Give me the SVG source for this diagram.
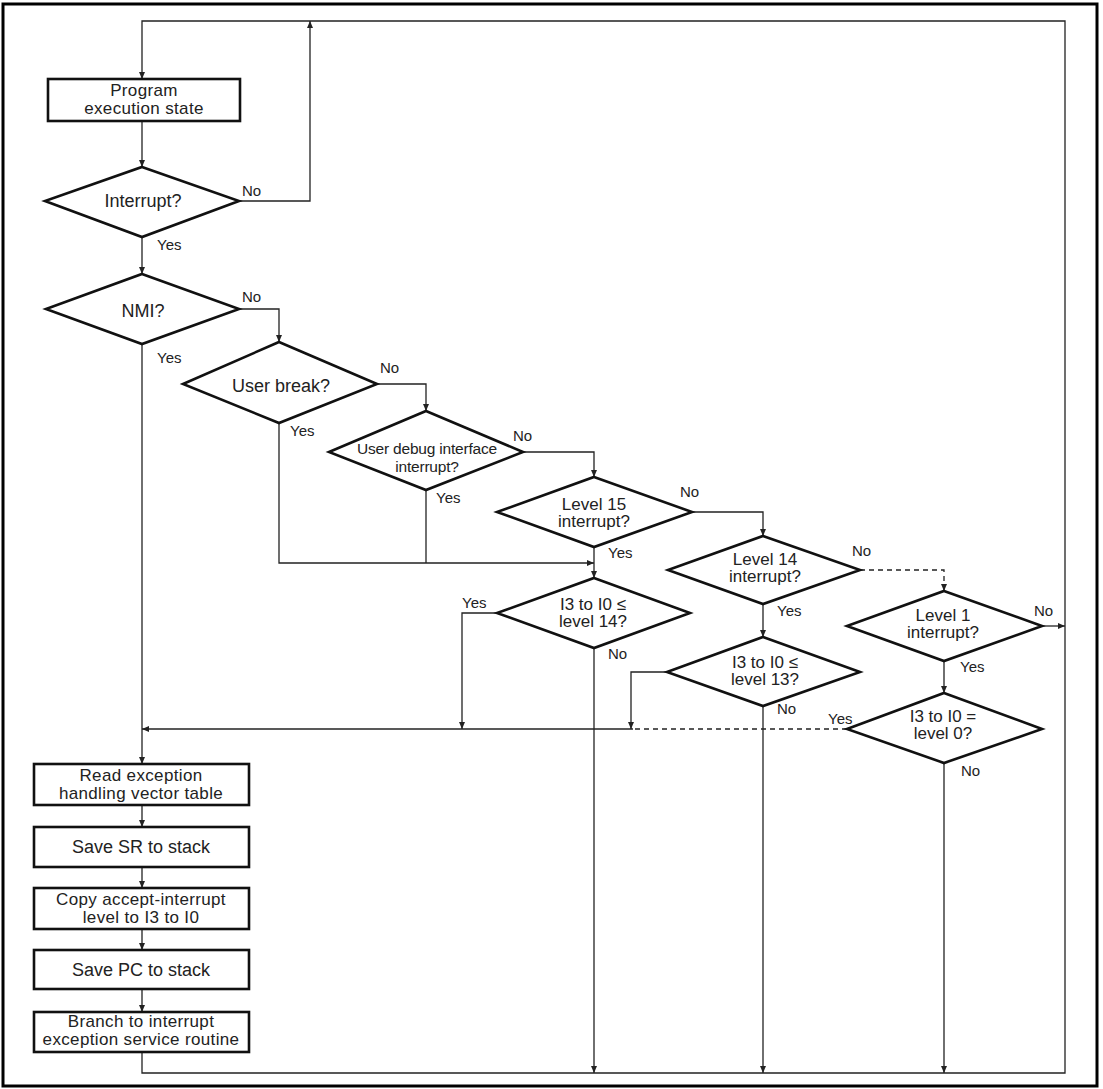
<svg xmlns="http://www.w3.org/2000/svg" width="1103" height="1089" viewBox="0 0 1103 1089">
<style>
.frame{fill:none;stroke:#000;stroke-width:3}
.shape{fill:#fff;stroke:#111;stroke-width:2.6;stroke-linejoin:miter}
.c{fill:none;stroke:#222;stroke-width:1.3}
.d{stroke-dasharray:5,4}
.t{font-family:"Liberation Sans",Arial,sans-serif;font-size:18px;fill:#222;text-anchor:middle}
.t2{font-size:17px;letter-spacing:0.35px}
.t17{font-size:17px}
.t16{font-size:15.5px;letter-spacing:-0.2px}
.l{font-family:"Liberation Sans",Arial,sans-serif;font-size:15px;fill:#222}
</style>
<defs>
<marker id="ah" markerUnits="userSpaceOnUse" markerWidth="8" markerHeight="6" refX="7" refY="3" orient="auto">
<path d="M0,0 L7,3 L0,6 z" fill="#222"/>
</marker>
</defs>
<rect class="frame" x="3" y="4" width="1094" height="1082"/>
<g id="connectors">
<polyline class="c" points="142,1052 142,1073 1065,1073 1065,21 142,21 142,79" marker-end="url(#ah)"/>
<polyline class="c" points="239,201 310,201 310,21" marker-end="url(#ah)"/>
<line class="c" x1="142" y1="121" x2="142" y2="167" marker-end="url(#ah)"/>
<line class="c" x1="142" y1="237" x2="142" y2="274" marker-end="url(#ah)"/>
<line class="c" x1="142" y1="344" x2="142" y2="764" marker-end="url(#ah)"/>
<polyline class="c" points="239,309 279,309 279,342" marker-end="url(#ah)"/>
<polyline class="c" points="377,384 426,384 426,411" marker-end="url(#ah)"/>
<polyline class="c" points="279,423 279,563 594,563" marker-end="url(#ah)"/>
<line class="c" x1="426" y1="490" x2="426" y2="563"/>
<polyline class="c" points="523,452 594,452 594,477" marker-end="url(#ah)"/>
<line class="c" x1="594" y1="547" x2="594" y2="578" marker-end="url(#ah)"/>
<polyline class="c" points="692,512 763,512 763,536" marker-end="url(#ah)"/>
<polyline class="c" points="497,613 462,613 462,729" marker-end="url(#ah)"/>
<line class="c" x1="594" y1="648" x2="594" y2="1073" marker-end="url(#ah)"/>
<line class="c" x1="763" y1="604" x2="763" y2="637" marker-end="url(#ah)"/>
<polyline class="c d" points="860,570 944,570 944,591" marker-end="url(#ah)"/>
<polyline class="c" points="667,672 631,672 631,729" marker-end="url(#ah)"/>
<line class="c" x1="763" y1="706" x2="763" y2="1073" marker-end="url(#ah)"/>
<line class="c" x1="1042" y1="626" x2="1065" y2="626" marker-end="url(#ah)"/>
<line class="c" x1="944" y1="661" x2="944" y2="693" marker-end="url(#ah)"/>
<line class="c d" x1="847" y1="729" x2="633" y2="729"/>
<line class="c" x1="633" y1="729" x2="142" y2="729" marker-end="url(#ah)"/>
<line class="c" x1="944" y1="763" x2="944" y2="1073" marker-end="url(#ah)"/>
<line class="c" x1="142" y1="805" x2="142" y2="827" marker-end="url(#ah)"/>
<line class="c" x1="142" y1="867" x2="142" y2="888" marker-end="url(#ah)"/>
<line class="c" x1="142" y1="929" x2="142" y2="950" marker-end="url(#ah)"/>
<line class="c" x1="142" y1="989" x2="142" y2="1012" marker-end="url(#ah)"/>
</g>
<g id="labels">
<text class="l" x="242" y="196">No</text>
<text class="l" x="157" y="250">Yes</text>
<text class="l" x="242" y="302">No</text>
<text class="l" x="157" y="363">Yes</text>
<text class="l" x="380" y="373">No</text>
<text class="l" x="290" y="436">Yes</text>
<text class="l" x="513" y="441">No</text>
<text class="l" x="436" y="503">Yes</text>
<text class="l" x="680" y="497">No</text>
<text class="l" x="608" y="558">Yes</text>
<text class="l" x="462" y="608">Yes</text>
<text class="l" x="608" y="659">No</text>
<text class="l" x="777" y="616">Yes</text>
<text class="l" x="852" y="556">No</text>
<text class="l" x="777" y="714">No</text>
<text class="l" x="1034" y="616">No</text>
<text class="l" x="960" y="672">Yes</text>
<text class="l" x="828" y="724">Yes</text>
<text class="l" x="961" y="776">No</text>
</g>
<g id="program-execution-state">
<rect class="shape" x="48" y="79" width="192" height="42"/>
<text class="t t2" x="144" y="96">Program</text>
<text class="t t2" x="144" y="114">execution state</text>
</g>
<g id="interrupt">
<polygon class="shape" points="142,167 239,201 142,237 45,201"/>
<text class="t" x="143" y="207">Interrupt?</text>
</g>
<g id="nmi">
<polygon class="shape" points="142,274 239,309 142,344 46,309"/>
<text class="t" x="143" y="317">NMI?</text>
</g>
<g id="user-break">
<polygon class="shape" points="279,342 377,384 279,423 183,384"/>
<text class="t" x="281" y="392">User break?</text>
</g>
<g id="user-debug">
<polygon class="shape" points="426,411 523,452 426,490 329,452"/>
<text class="t t16" x="427" y="454">User debug interface</text>
<text class="t t16" x="427" y="472">interrupt?</text>
</g>
<g id="level15">
<polygon class="shape" points="594,477 692,512 594,547 497,512"/>
<text class="t t17" x="594" y="510">Level 15</text>
<text class="t t17" x="594" y="527">interrupt?</text>
</g>
<g id="i3-le-14">
<polygon class="shape" points="594,578 690,613 594,648 497,613"/>
<text class="t t17" x="593" y="610">I3 to I0 ≤</text>
<text class="t t17" x="593" y="627">level 14?</text>
</g>
<g id="level14">
<polygon class="shape" points="763,536 860,570 763,604 668,570"/>
<text class="t t17" x="765" y="565">Level 14</text>
<text class="t t17" x="765" y="582">interrupt?</text>
</g>
<g id="i3-le-13">
<polygon class="shape" points="763,637 860,672 763,706 667,672"/>
<text class="t t17" x="765" y="668">I3 to I0 ≤</text>
<text class="t t17" x="765" y="685">level 13?</text>
</g>
<g id="level1">
<polygon class="shape" points="944,591 1042,626 944,661 847,626"/>
<text class="t t17" x="943" y="621">Level 1</text>
<text class="t t17" x="943" y="638">interrupt?</text>
</g>
<g id="i3-eq-0">
<polygon class="shape" points="944,693 1042,729 944,763 847,729"/>
<text class="t t17" x="943" y="722">I3 to I0 =</text>
<text class="t t17" x="943" y="739">level 0?</text>
</g>
<g id="read-vector">
<rect class="shape" x="34" y="764" width="215" height="41"/>
<text class="t t2" x="141" y="781">Read exception</text>
<text class="t t2" x="141" y="799">handling vector table</text>
</g>
<g id="save-sr">
<rect class="shape" x="34" y="827" width="215" height="40"/>
<text class="t" x="141" y="853">Save SR to stack</text>
</g>
<g id="copy-level">
<rect class="shape" x="34" y="888" width="215" height="41"/>
<text class="t t2" x="141" y="905">Copy accept-interrupt</text>
<text class="t t2" x="141" y="923">level to I3 to I0</text>
</g>
<g id="save-pc">
<rect class="shape" x="34" y="950" width="215" height="39"/>
<text class="t" x="141" y="976">Save PC to stack</text>
</g>
<g id="branch">
<rect class="shape" x="34" y="1012" width="215" height="40"/>
<text class="t t2" x="141" y="1027">Branch to interrupt</text>
<text class="t t2" x="141" y="1045">exception service routine</text>
</g>
</svg>
